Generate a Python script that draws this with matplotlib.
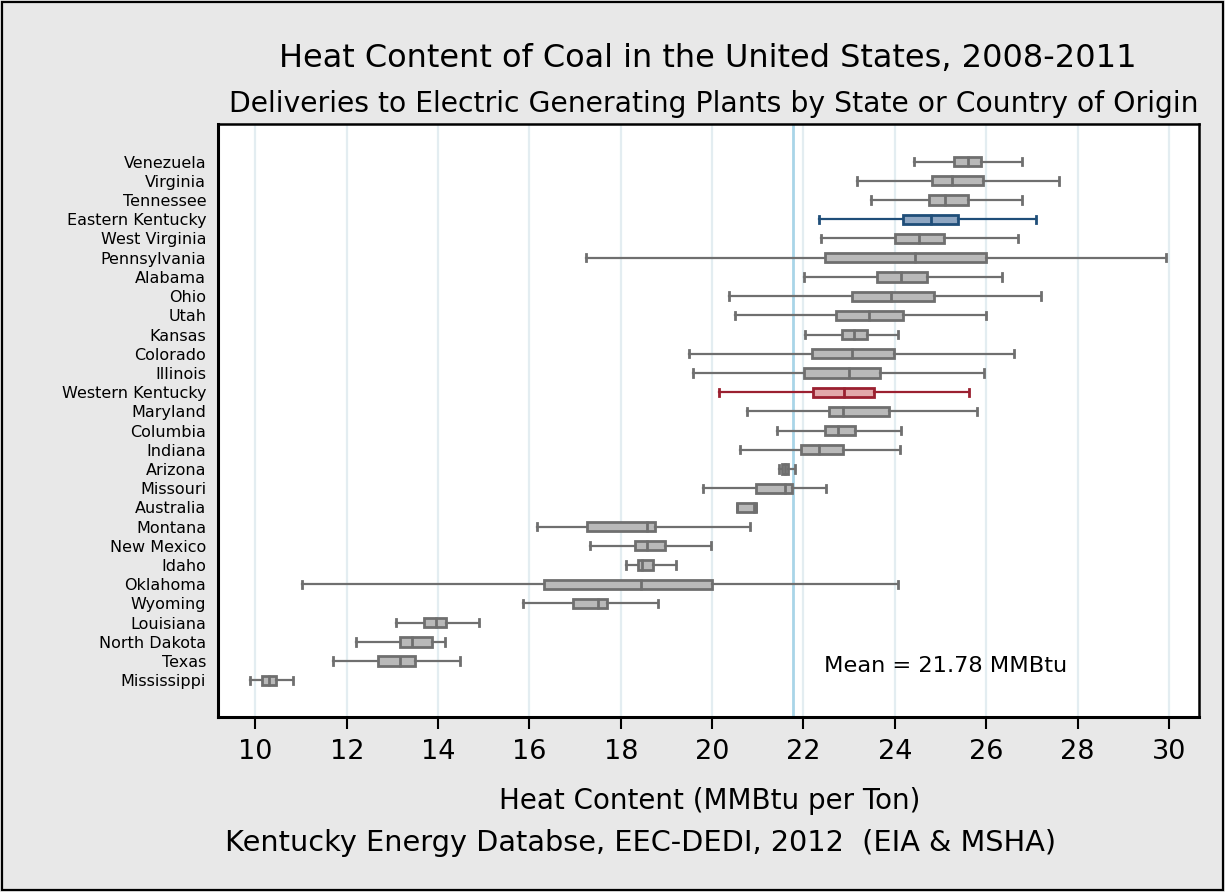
import matplotlib
matplotlib.use("Agg")
import matplotlib.pyplot as plt
from matplotlib.patches import Rectangle
import numpy as np

plt.rcParams['font.family'] = ['DejaVu Sans']

states = ["Venezuela", "Virginia", "Tennessee", "Eastern Kentucky", "West Virginia",
          "Pennsylvania", "Alabama", "Ohio", "Utah", "Kansas", "Colorado", "Illinois",
          "Western Kentucky", "Maryland", "Columbia", "Indiana", "Arizona", "Missouri",
          "Australia", "Montana", "New Mexico", "Idaho", "Oklahoma", "Wyoming",
          "Louisiana", "North Dakota", "Texas", "Mississippi"]
whislo = [24.41, 23.17, 23.47, 22.34, 22.38, 17.23, 22.02, 20.36, 20.51, 22.04,
          19.49, 19.57, 20.16, 20.76, 21.41, 20.61, 21.46, 19.81, 20.55, 16.16,
          17.33, 18.12, 11.02, 15.85, 13.07, 12.20, 11.70, 9.87]
q1 = [25.30, 24.82, 24.74, 24.17, 24.01, 22.48, 23.61, 23.06, 22.71, 22.84,
      22.18, 22.01, 22.21, 22.56, 22.46, 21.95, 21.52, 20.95, 20.55, 17.25,
      18.30, 18.37, 16.32, 16.95, 13.69, 13.17, 12.69, 10.14]
med = [25.60, 25.25, 25.10, 24.79, 24.52, 24.44, 24.14, 23.92, 23.44, 23.11,
       23.07, 22.99, 22.89, 22.87, 22.76, 22.34, 21.60, 21.60, 20.92, 18.58,
       18.58, 18.47, 18.44, 17.51, 13.95, 13.43, 13.17, 10.29]
q3 = [25.88, 25.93, 25.60, 25.38, 25.08, 25.99, 24.71, 24.85, 24.17, 23.40,
      23.98, 23.68, 23.55, 23.88, 23.12, 22.87, 21.65, 21.75, 20.96, 18.74,
      18.97, 18.70, 20.00, 17.70, 14.17, 13.86, 13.49, 10.44]
whishi = [26.79, 27.60, 26.79, 27.09, 26.70, 29.93, 26.35, 27.20, 26.00, 24.07,
          26.60, 25.95, 25.62, 25.79, 24.14, 24.12, 21.82, 22.49, 20.97, 20.82,
          19.97, 19.21, 24.07, 18.81, 14.90, 14.14, 14.48, 10.82]
mean_value = 21.78
xticks = [10, 12, 14, 16, 18, 20, 22, 24, 26, 28, 30]

highlight = {"Eastern Kentucky": ("#1f4e79", "#8ea6c2"),
             "Western Kentucky": ("#9b2030", "#e2a8aa")}
edge_gray = "#6f6f6f"
fill_gray = "#b9b9b9"

fig = plt.figure(figsize=(12.25, 8.92), dpi=100)
fig.patch.set_facecolor("#e8e8e8")
fig.patches.append(Rectangle((0.0015, 0.002), 0.997, 0.996, transform=fig.transFigure,
                             fill=False, edgecolor="black", linewidth=1.6, zorder=10))

ax = fig.add_axes([218 / 1225, 1 - 717 / 892, (1199 - 218) / 1225, (717 - 124) / 892])
ax.set_facecolor("white")

n = len(states)
positions = np.arange(n)[::-1]
stats = []
for i, s in enumerate(states):
    stats.append(dict(label=s, whislo=whislo[i], q1=q1[i], med=med[i],
                      q3=q3[i], whishi=whishi[i], fliers=[]))

# grid and mean line
for t in xticks:
    ax.axvline(t, color="#e3edf1", lw=1.6, zorder=0)
ax.axvline(mean_value, color="#a9d5e8", lw=2.0, zorder=1)

bp = ax.bxp(stats, positions=positions, vert=False, widths=0.48, patch_artist=True,
            showfliers=False, capwidths=0.38,
            boxprops=dict(edgecolor=edge_gray, facecolor=fill_gray, linewidth=2.0),
            whiskerprops=dict(color=edge_gray, linewidth=1.6),
            capprops=dict(color=edge_gray, linewidth=2.0),
            medianprops=dict(color=edge_gray, linewidth=2.0), zorder=3)

# medians extend slightly beyond the box, as in the reference
for i, m in enumerate(bp['medians']):
    m.set_ydata([positions[i] - 0.29, positions[i] + 0.29])

for i, s in enumerate(states):
    if s in highlight:
        ec, fc = highlight[s]
        bp['boxes'][i].set_edgecolor(ec)
        bp['boxes'][i].set_facecolor(fc)
        bp['medians'][i].set_color(ec)
        for w in bp['whiskers'][2 * i:2 * i + 2]:
            w.set_color(ec)
        for c in bp['caps'][2 * i:2 * i + 2]:
            c.set_color(ec)

ax.set_xlim(9.18, 30.66)
ax.set_ylim(-1.91, n - 1 + 1.96)
ax.set_xticks(xticks)
ax.set_xticklabels([str(t) for t in xticks])
ax.set_yticks(positions)
ax.set_yticklabels(states)
ax.tick_params(axis='x', direction='out', length=8.6, width=1.5, labelsize=19.5,
               pad=7, color='black')
ax.tick_params(axis='y', length=0, labelsize=11.5, pad=8.5)
for sp in ax.spines.values():
    sp.set_color("black")
    sp.set_linewidth(1.8)
ax.spines['left'].set_linewidth(2.2)
ax.spines['bottom'].set_linewidth(2.2)

ax.text(22.45, 0.0764, "Mean = 21.78 MMBtu", transform=ax.get_xaxis_transform(),
        fontsize=16.2, ha='left', va='baseline')

fig.text(708 / 1225, 1 - 66.7 / 892, "Heat Content of Coal in the United States, 2008-2011",
         fontsize=23, ha='center', va='baseline')
fig.text(714 / 1225, 1 - 111.7 / 892,
         "Deliveries to Electric Generating Plants by State or Country of Origin",
         fontsize=20.3, ha='center', va='baseline')
fig.text(709.5 / 1225, 1 - 808.7 / 892, "Heat Content (MMBtu per Ton)",
         fontsize=20, ha='center', va='baseline')
fig.text(225 / 1225, 1 - 850.7 / 892, "Kentucky Energy Databse, EEC-DEDI, 2012  (EIA & MSHA)",
         fontsize=20.7, ha='left', va='baseline')

fig.savefig("out.png", dpi=100, facecolor=fig.get_facecolor())
